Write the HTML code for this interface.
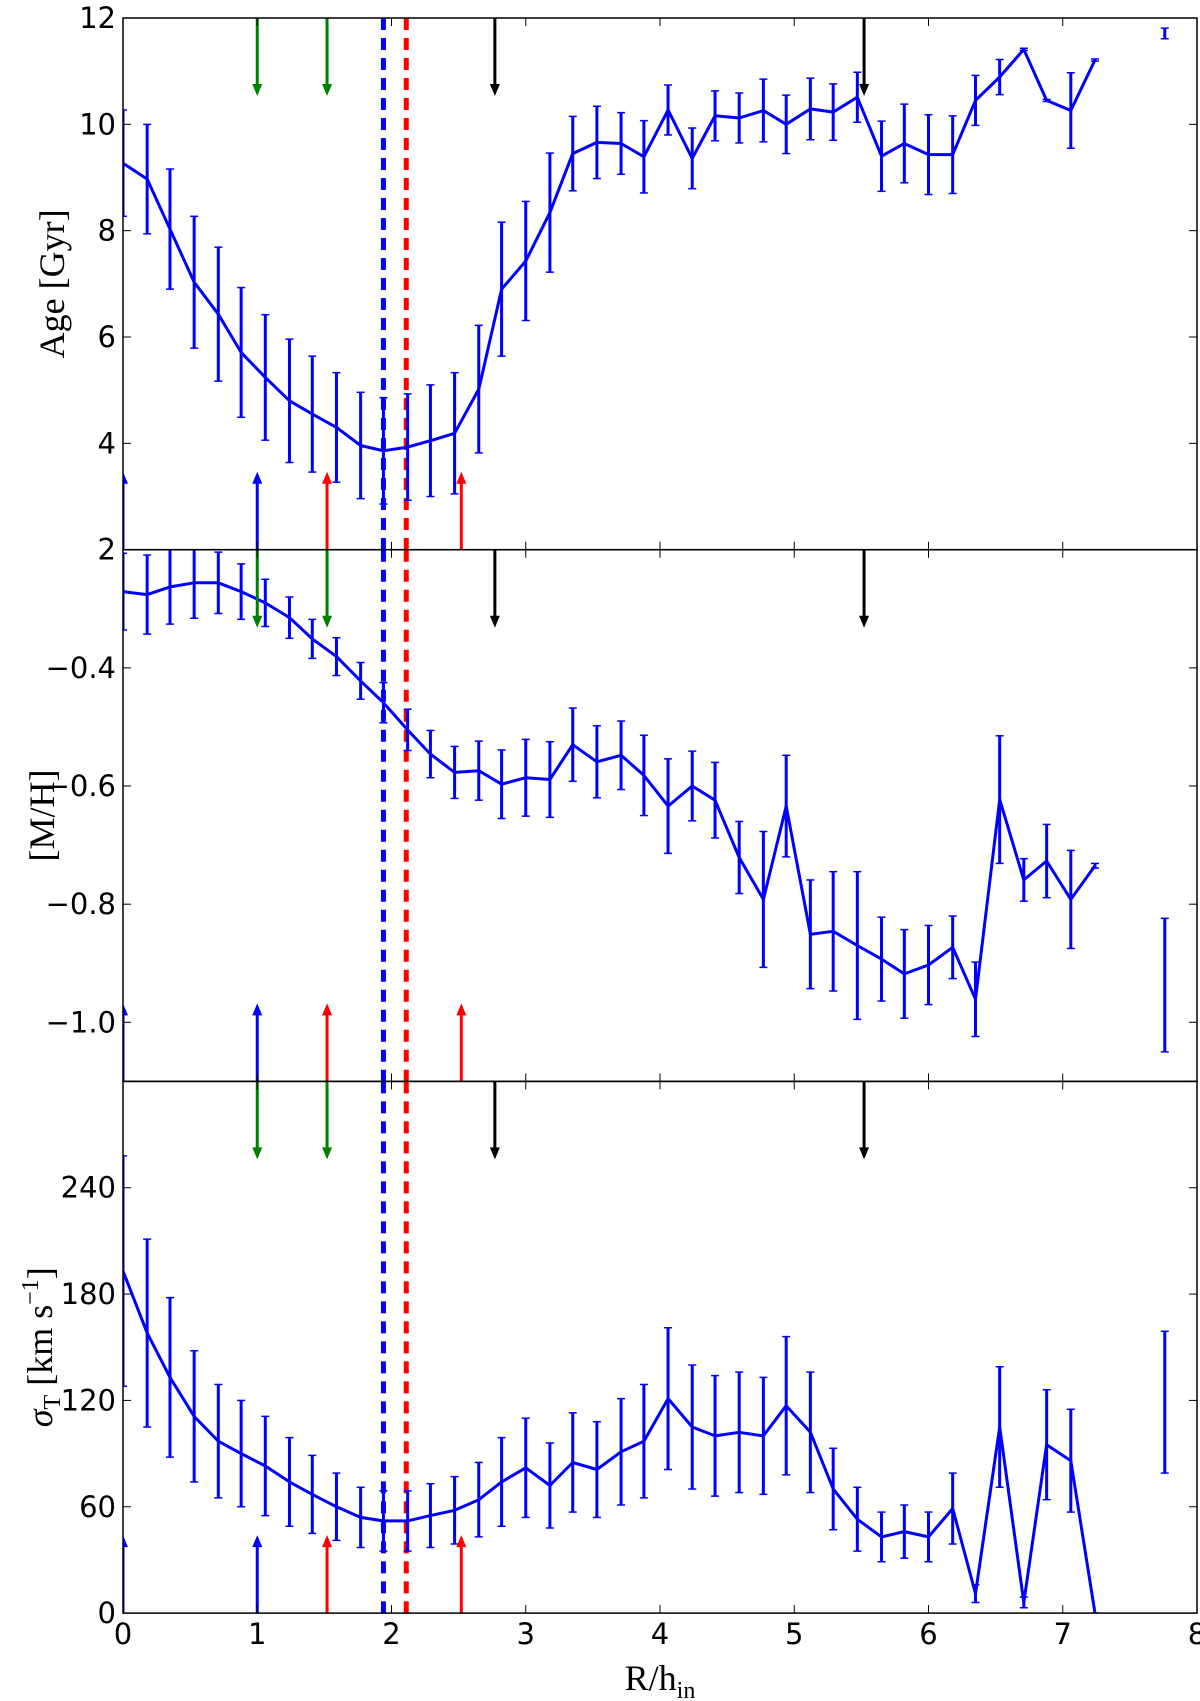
<!DOCTYPE html>
<html><head><meta charset="utf-8"><style>
html,body{margin:0;padding:0;background:#fff;}
svg{display:block;}
.tk{font-family:"DejaVu Sans","Liberation Sans",sans-serif;font-size:29px;fill:#000;}
.lab{font-family:"Liberation Serif","DejaVu Serif",serif;font-size:36px;fill:#000;}
</style></head><body>
<svg id="chart" width="1200" height="1701" viewBox="0 0 1200 1701" xmlns="http://www.w3.org/2000/svg"></svg>
<script>
const radius = [0,0.18,0.35,0.53,0.71,0.88,1.06,1.24,1.41,1.59,1.77,1.94,2.12,2.29,2.47,2.65,2.82,3.0,3.18,3.35,3.53,3.71,3.88,4.06,4.24,4.41,4.59,4.77,4.94,5.12,5.29,5.47,5.65,5.82,6.0,6.18,6.35,6.53,6.71,6.88,7.06,7.24];
const ageVals = [9.27,8.97,8.03,7.03,6.43,5.71,5.24,4.8,4.55,4.3,3.96,3.86,3.93,4.05,4.19,5.02,6.9,7.43,8.34,9.45,9.66,9.64,9.39,10.27,9.36,10.16,10.12,10.26,10.0,10.29,10.23,10.51,9.4,9.64,9.43,9.43,10.45,10.89,11.41,10.45,10.26,11.21];
const ageErr = [1.0,1.03,1.13,1.24,1.26,1.22,1.18,1.16,1.09,1.03,1.0,1.0,1.0,1.05,1.14,1.2,1.26,1.12,1.12,0.7,0.68,0.58,0.68,0.47,0.57,0.47,0.47,0.59,0.55,0.58,0.53,0.47,0.66,0.74,0.75,0.73,0.47,0.33,0.02,0.02,0.71,0.02];
const mhVals = [-0.271,-0.276,-0.263,-0.256,-0.256,-0.271,-0.29,-0.315,-0.351,-0.381,-0.422,-0.459,-0.505,-0.546,-0.577,-0.574,-0.597,-0.586,-0.589,-0.53,-0.559,-0.548,-0.582,-0.634,-0.6,-0.624,-0.721,-0.792,-0.634,-0.851,-0.846,-0.87,-0.893,-0.918,-0.903,-0.873,-0.961,-0.623,-0.759,-0.727,-0.792,-0.735];
const mhErr = [0.065,0.067,0.063,0.06,0.052,0.047,0.04,0.035,0.033,0.032,0.031,0.034,0.035,0.04,0.044,0.05,0.058,0.065,0.064,0.062,0.061,0.058,0.068,0.08,0.059,0.064,0.061,0.115,0.086,0.092,0.101,0.125,0.071,0.075,0.067,0.053,0.063,0.108,0.036,0.062,0.083,0.004];
const sigVals = [193,158,133,111,97,90,83,74,67,60,54,52,52,55,58,64,74,82,72,85,81,91,97,121,105,100,102,100,117,102,70,53,43,46,43,59,11,105,6,95,86,0];
const sigErr = [65,53,45,37,32,30,28,25,22,19,17,17,17,18,19,21,25,28,24,28,27,30,32,40,35,34,34,33,39,34,23,18,14,15,14,20,5,34,3,31,29,0];
// representative error bar at R=7.76
const repX = [7.76];
const repAge = [11.71], repAgeErr = [0.1];
const repMh = [-0.937], repMhErr = [0.113];
const repSig = [119], repSigErr = [40];
// markers
const downArrowsX = [1.0, 1.52, 2.77, 5.52];
const downArrowsC = ['#008000','#008000','#000000','#000000'];
const upArrowsX = [0.0, 1.0, 1.52, 2.52];
const upArrowsC = ['#0000ff','#0000ff','#ff0000','#ff0000'];
const dashX = [1.94, 2.11];
const dashC = ['#0000ff','#ff0000'];
const xTicks = [0,1,2,3,4,5,6,7,8];
const ageTicks = [2,4,6,8,10,12];
const mhTicks = [-1.0,-0.8,-0.6,-0.4,-0.2];
const sigTicks = [0,60,120,180,240,300];

const NS='http://www.w3.org/2000/svg';
const svg=document.getElementById('chart');
const L=123,R=1197,T=18,PH=531.7;
function mk(tag,attrs,parent){const e=document.createElementNS(NS,tag);for(const k in attrs)e.setAttribute(k,attrs[k]);(parent||svg).appendChild(e);return e;}
const xs=v=>L+(v-0)/8*(R-L);

const panels=[
 {name:'age',vals:ageVals,err:ageErr,rep:repAge,repErr:repAgeErr,min:2,max:12,ticks:ageTicks,lab:[2,4,6,8,10,12],fmt:v=>String(v)},
 {name:'metallicity',vals:mhVals,err:mhErr,rep:repMh,repErr:repMhErr,min:-1.1,max:-0.2,ticks:mhTicks,lab:[-1.0,-0.8,-0.6,-0.4],fmt:v=>'\u2212'+Math.abs(v).toFixed(1)},
 {name:'dispersion',vals:sigVals,err:sigErr,rep:repSig,repErr:repSigErr,min:0,max:300,ticks:sigTicks,lab:[0,60,120,180,240],fmt:v=>String(v)}
];
const defs=mk('defs',{});
panels.forEach((p,pi)=>{
  const top=T+pi*PH, bot=top+PH;
  const ys=v=>bot-(v-p.min)/(p.max-p.min)*PH;
  const cp=mk('clipPath',{id:'clip'+pi},defs);
  mk('rect',{x:L,y:top,width:R-L,height:PH},cp);
  const g=mk('g',{'clip-path':'url(#clip'+pi+')'});
  
  
  dashX.forEach((dx,i)=>{
    const l=mk('line',{x1:xs(dx),x2:xs(dx),y1:top,y2:bot,stroke:dashC[i],'stroke-width':5,'stroke-dasharray':'12 8'},g);
    
    
  });
  const pts=radius.map((x,i)=>xs(x).toFixed(1)+','+ys(p.vals[i]).toFixed(1)).join(' ');
  const pl=mk('polyline',{points:pts,fill:'none',stroke:'#0000ff','stroke-width':3,'stroke-linejoin':'round'},g);
  
  
  const drawErr=(x,v,e,nm)=>{
    const eg=mk('g',{},g);
    
    
    const X=xs(x),y1=ys(v+e),y2=ys(v-e);
    mk('line',{x1:X,x2:X,y1:y1,y2:y2,stroke:'#0000ff','stroke-width':3},eg);
    mk('line',{x1:X-4,x2:X+4,y1:y1,y2:y1,stroke:'#0000ff','stroke-width':1.5},eg);
    mk('line',{x1:X-4,x2:X+4,y1:y2,y2:y2,stroke:'#0000ff','stroke-width':1.5},eg);
  };
  radius.forEach((x,i)=>drawErr(x,p.vals[i],p.err[i],p.name+'-errorbar'));
  repX.forEach((x,i)=>drawErr(x,p.rep[i],p.repErr[i],p.name+'-typical-error'));
  downArrowsX.forEach((ax,i)=>{
    const X=xs(ax),c=downArrowsC[i];
    const a=mk('g',{},g);
    
    
    mk('line',{x1:X,x2:X,y1:top,y2:top+70,stroke:c,'stroke-width':3},a);
    mk('polygon',{points:`${X-5},${top+66} ${X+5},${top+66} ${X},${top+78}`,fill:c},a);
  });
  upArrowsX.forEach((ax,i)=>{
    const X=xs(ax),c=upArrowsC[i];
    const a=mk('g',{},g);
    
    
    mk('line',{x1:X,x2:X,y1:bot,y2:bot-70,stroke:c,'stroke-width':3},a);
    mk('polygon',{points:`${X-5},${bot-66} ${X+5},${bot-66} ${X},${bot-78}`,fill:c},a);
  });
  const fr=mk('rect',{x:L,y:top,width:R-L,height:PH,fill:'none',stroke:'#000','stroke-width':1.5});
  
  
  p.ticks.forEach(t=>{
    const y=ys(t);
    mk('line',{x1:L,x2:L+8,y1:y,y2:y,stroke:'#000','stroke-width':1});
    mk('line',{x1:R,x2:R-8,y1:y,y2:y,stroke:'#000','stroke-width':1});
  });
  p.lab.forEach(t=>{
    const tx=mk('text',{x:L-7,y:ys(t)+10,'text-anchor':'end',class:'tk'});
    
    
    tx.textContent=p.fmt(t);
  });
  xTicks.forEach(t=>{
    const x=xs(t);
    mk('line',{x1:x,x2:x,y1:bot,y2:bot-8,stroke:'#000','stroke-width':1});
    mk('line',{x1:x,x2:x,y1:top,y2:top+8,stroke:'#000','stroke-width':1});
  });
});
xTicks.forEach(t=>{
  const tx=mk('text',{x:xs(t),y:T+3*PH+31,'text-anchor':'middle',class:'tk'});
  
  
  tx.textContent=String(t);
});
function ylab(cx,cy,html,nm){
  const t=mk('text',{x:0,y:0,'text-anchor':'middle',class:'lab',transform:`translate(${cx},${cy}) rotate(-90)`});
  
  
  t.innerHTML=html;
}
ylab(64,T+PH/2,'Age [Gyr]','age-y-axis-title');
ylab(54,T+1.5*PH,'[M/H]','metallicity-y-axis-title');
ylab(52,T+2.5*PH,'<tspan font-style="italic">σ</tspan><tspan font-size="24" dy="8">T</tspan><tspan dy="-8"> [km s</tspan><tspan font-size="24" dy="-14">−1</tspan><tspan dy="14">]</tspan>','dispersion-y-axis-title');
const xl=mk('text',{x:660,y:1690,'text-anchor':'middle',class:'lab'});


xl.innerHTML='R/h<tspan font-size="24" dy="8">in</tspan>';
</script>
</body></html>
